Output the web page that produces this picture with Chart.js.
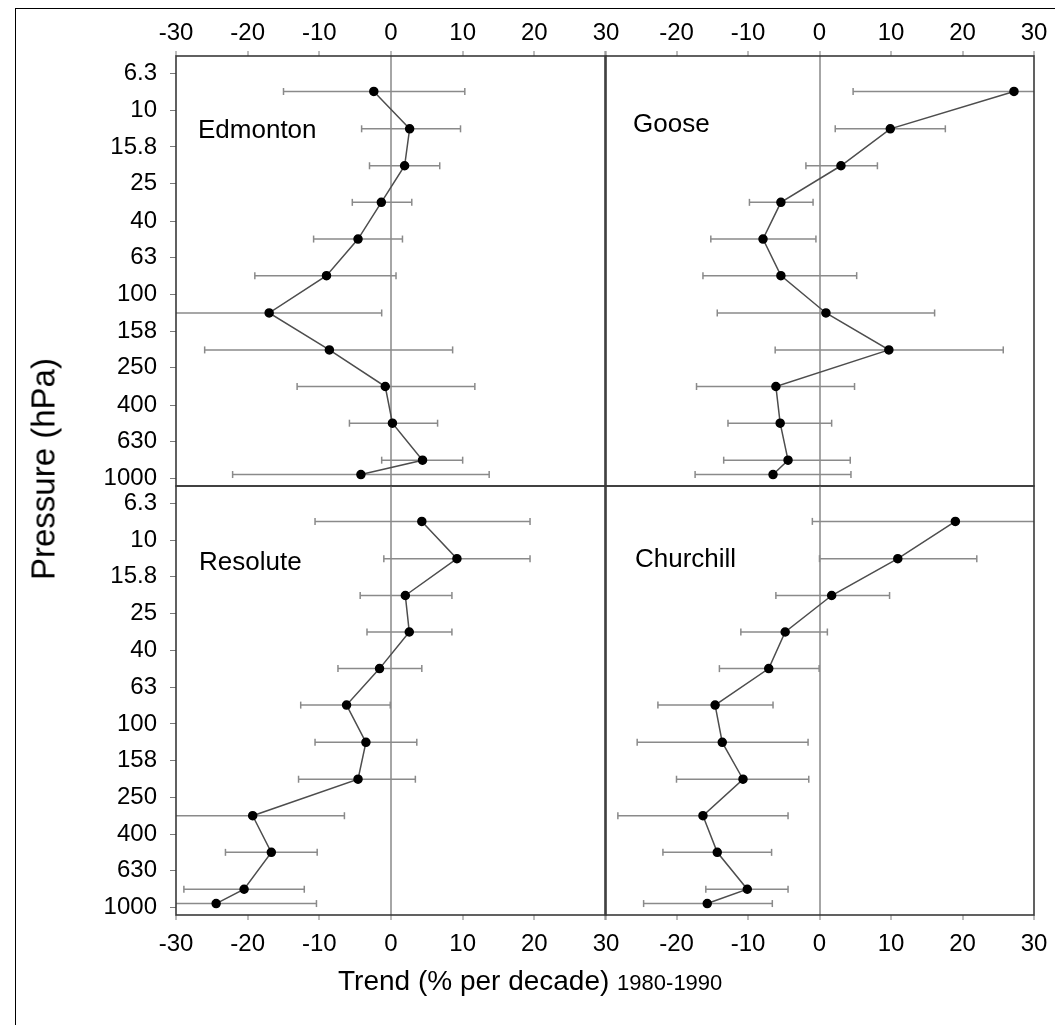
<!DOCTYPE html>
<html>
<head>
<meta charset="utf-8">
<title>Ozone trend profiles 1980-1990</title>
<script src="https://cdn.jsdelivr.net/npm/chart.js"></script>
<style>
  body { margin: 0; background: #fff; font-family: "Liberation Sans", Arial, sans-serif; }
  #page { position: relative; width: 1055px; height: 1025px; overflow: hidden; background: #fff; }
  canvas { position: absolute; left: 0; top: 0; }
  .frame { position: absolute; left: 15px; top: 8px; width: 1100px; height: 1100px; border-top: 1px solid #000; border-left: 1px solid #000; }
  .station { position: absolute; font-size: 26px; line-height: 1; color: #000; white-space: nowrap; }
  #ytitle { position: absolute; left: 43px; top: 469px; font-size: 33px; line-height: 1; white-space: nowrap;
            transform: translate(-50%, -50%) rotate(-90deg); }
  #xtitle { position: absolute; left: 338px; top: 967px; font-size: 28px; line-height: 1; white-space: nowrap; }
  #xtitle span { font-size: 22px; }
</style>
</head>
<body>
<div id="page">
  <div class="frame"></div>
  <canvas id="edmontonChart" width="1100" height="1025"></canvas>
  <canvas id="gooseChart" width="1100" height="1025"></canvas>
  <canvas id="resoluteChart" width="1100" height="1025"></canvas>
  <canvas id="churchillChart" width="1100" height="1025"></canvas>
  <div class="station" style="left:198px; top:116px;">Edmonton</div>
  <div class="station" style="left:633px; top:110px;">Goose</div>
  <div class="station" style="left:199px; top:548px;">Resolute</div>
  <div class="station" style="left:635px; top:545px;">Churchill</div>
  <div id="ytitle">Pressure (hPa)</div>
  <div id="xtitle">Trend (% per decade) <span>1980-1990</span></div>
</div>

<script>
    // pressure axis labels (hPa) and the layer levels the trends are given for
    var tickLabels = ['6.3', '10', '15.8', '25', '40', '63', '100', '158', '250', '400', '630', '1000'];
    var levels = [7.9, 12.6, 20, 31.6, 50, 79, 126, 200, 316, 500, 794, 950];

    // trend (% per decade) and error bar ends, top level first
    var edmonton     = [-2.4, 2.6, 1.9, -1.35, -4.6, -9.0, -17.0, -8.6, -0.8, 0.2, 4.4, -4.2];
    var edmontonLow  = [-15.0, -4.1, -3.0, -5.4, -10.8, -19.0, -31, -26.0, -13.1, -5.8, -1.3, -22.1];
    var edmontonHigh = [10.3, 9.7, 6.8, 2.9, 1.6, 0.7, -1.3, 8.6, 11.7, 6.5, 10.0, 13.7];

    var goose     = [27.2, 9.9, 3.0, -5.4, -7.9, -5.4, 0.9, 9.7, -6.1, -5.5, -4.4, -6.5];
    var gooseLow  = [4.7, 2.2, -1.9, -9.8, -15.2, -16.3, -14.3, -6.2, -17.2, -12.8, -13.4, -17.4];
    var gooseHigh = [32, 17.6, 8.1, -0.9, -0.5, 5.2, 16.1, 25.7, 4.9, 1.7, 4.3, 4.4];

    var resolute     = [4.3, 9.2, 2.0, 2.55, -1.6, -6.2, -3.5, -4.6, -19.3, -16.7, -20.5, -24.4];
    var resoluteLow  = [-10.6, -1.0, -4.3, -3.35, -7.4, -12.6, -10.6, -12.9, -31, -23.1, -28.9, -31];
    var resoluteHigh = [19.4, 19.4, 8.5, 8.5, 4.3, -0.1, 3.6, 3.4, -6.5, -10.3, -12.1, -10.4];

    var churchill     = [19.0, 10.95, 1.7, -4.8, -7.1, -14.6, -13.6, -10.7, -16.3, -14.3, -10.1, -15.7];
    var churchillLow  = [-1.0, 0.0, -6.1, -11.0, -14.0, -22.6, -25.5, -20.0, -28.2, -21.9, -15.9, -24.6];
    var churchillHigh = [32, 22.0, 9.8, 1.1, -0.05, -6.5, -1.6, -1.5, -4.4, -6.7, -4.4, -6.6];

    Chart.defaults.font.family = '"Liberation Sans", Arial, sans-serif';
    Chart.defaults.color = '#000';

    // box round each panel
    var framePlugin = {
        id: 'frame',
        afterDraw: function (chart) {
            var a = chart.chartArea;
            var c = chart.ctx;
            c.save();
            c.strokeStyle = '#3a3a3a';
            c.lineWidth = 1.6;
            c.strokeRect(a.left, a.top, a.right - a.left, a.bottom - a.top);
            c.restore();
        }
    };

    function drawPanel(id, trend, low, high, col, row) {
        var areaLeft = col === 0 ? 176 : 605;
        var areaRight = col === 0 ? 606 : 1034;
        var canvasWidth = 1100;

        var datasets = [{
            data: levels.map(function (p, i) { return { x: trend[i], y: Math.log10(p) }; }),
            showLine: true,
            borderColor: '#4d4d4d',
            borderWidth: 1.5,
            pointRadius: 4,
            pointBackgroundColor: '#000',
            pointBorderColor: '#000'
        }];
        // one small dataset per error bar, caps drawn as rotated line points
        levels.forEach(function (p, i) {
            datasets.push({
                data: [{ x: low[i], y: Math.log10(p) }, { x: high[i], y: Math.log10(p) }],
                showLine: true,
                borderColor: '#8a8a8a',
                borderWidth: 1.5,
                pointStyle: 'line',
                pointRotation: 90,
                pointRadius: 3.5,
                pointBorderColor: '#8a8a8a',
                pointBorderWidth: 1.5
            });
        });

        new Chart(document.getElementById(id), {
            type: 'scatter',
            data: { datasets: datasets },
            options: {
                responsive: false,
                animation: false,
                events: [],
                layout: {
                    padding: {
                        left: col === 0 ? 0 : areaLeft,
                        right: canvasWidth - areaRight,
                        top: row === 0 ? 0 : 486,
                        bottom: row === 0 ? 539 : 60
                    }
                },
                plugins: { legend: { display: false }, tooltip: { enabled: false } },
                scales: {
                    x: {
                        type: 'linear',
                        position: row === 0 ? 'top' : 'bottom',
                        min: -30,
                        max: 30,
                        afterFit: function (s) { s.height = row === 0 ? 56 : 50; },
                        border: { display: false },
                        grid: {
                            drawOnChartArea: true,
                            color: function (c) { return c.tick && c.tick.value === 0 ? '#a6a6a6' : 'rgba(0,0,0,0)'; },
                            lineWidth: 2,
                            tickColor: '#7a7a7a',
                            tickWidth: 1,
                            tickLength: 5
                        },
                        ticks: {
                            stepSize: 10,
                            padding: row === 0 ? 3 : 10,
                            font: { size: 24 },
                            callback: function (v) { return (col === 1 && v === -30) ? '' : String(v); }
                        }
                    },
                    y: {
                        type: 'linear',
                        reverse: true,
                        min: 0.705,
                        max: 3.04,
                        display: col === 0,
                        afterFit: function (s) { s.width = col === 0 ? 176 : 0; },
                        afterBuildTicks: function (s) {
                            s.ticks = tickLabels.map(function (t) { return { value: Math.log10(parseFloat(t)) }; });
                        },
                        border: { display: false },
                        grid: { drawOnChartArea: false, tickColor: '#7a7a7a', tickLength: 6 },
                        ticks: {
                            autoSkip: false,
                            padding: 13,
                            font: { size: 24 },
                            callback: function (v, i) { return tickLabels[i]; }
                        }
                    }
                }
            },
            plugins: [framePlugin]
        });
    }

    drawPanel('edmontonChart', edmonton, edmontonLow, edmontonHigh, 0, 0);
    drawPanel('gooseChart', goose, gooseLow, gooseHigh, 1, 0);
    drawPanel('resoluteChart', resolute, resoluteLow, resoluteHigh, 0, 1);
    drawPanel('churchillChart', churchill, churchillLow, churchillHigh, 1, 1);
</script>
</body>
</html>
